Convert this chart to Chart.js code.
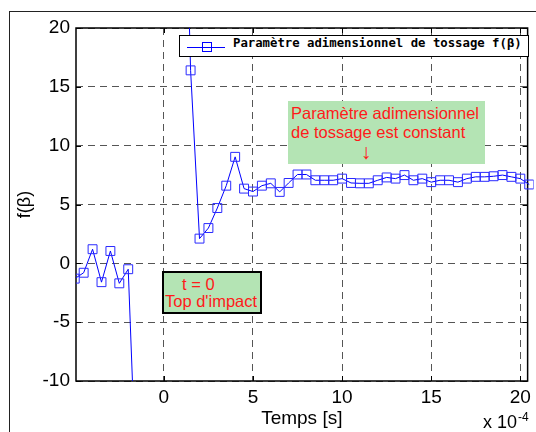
<!DOCTYPE html>
<html>
<head>
<meta charset="utf-8">
<script src="https://cdn.jsdelivr.net/npm/chart.js@4.4.0/dist/chart.umd.min.js"></script>
<style>
    body { margin: 0; background: #fff; }
    #wrap { position: relative; width: 536px; height: 432px; overflow: hidden; font-family: 'Liberation Sans', Arial, sans-serif; }
    #outer { position: absolute; left: 9px; top: 11px; width: 600px; height: 500px; border: 1px solid #222; }
    #tossageChart { position: absolute; left: 0; top: 0; }
    .legend { position: absolute; left: 179px; top: 35px; width: 350px; height: 22px; box-sizing: border-box; border: 1px solid #000; background: #fff; }
    .legend .line { position: absolute; left: 7px; top: 11px; width: 38px; height: 1px; background: #00f; }
    .legend .mark { position: absolute; left: 22px; top: 6px; width: 8px; height: 8px; border: 1px solid #00f; }
    .legend .txt { position: absolute; left: 53px; top: 0; line-height: 20px; font: bold 12.3px 'DejaVu Sans Mono', monospace; white-space: nowrap; }
    .note { position: absolute; background: #b4e4b4; color: #ff1a1a; font-size: 16.5px; white-space: nowrap; }
    .note1 { left: 288px; top: 101px; width: 197px; height: 63px; }
    .note1 div { position: absolute; left: 3px; line-height: 19px; }
    .note2 { left: 162px; top: 271px; width: 100px; height: 43px; box-sizing: border-box; border: 2px solid #000; }
    .note2 div { position: absolute; line-height: 17px; }
    .expo { position: absolute; font-size: 18px; line-height: 20px; white-space: nowrap; }
</style>
</head>
<body>
<div id="wrap">
    <div id="outer"></div>
    <canvas id="tossageChart" width="536" height="432"></canvas>
    <div class="legend"><span class="line"></span><span class="mark"></span><span class="txt" id="legend-text"></span></div>
    <div class="note note1">
        <div style="top:3px">Paramètre adimensionnel</div>
        <div style="top:22px">de tossage est constant</div>
        <div style="top:40px;left:66px;width:24px;text-align:center;font-size:21px;line-height:22px">↓</div>
    </div>
    <div class="note note2">
        <div style="top:3px;left:18px">t = 0</div>
        <div style="top:20px;left:1px">Top d'impact</div>
    </div>
    <div class="expo" style="left:483px;top:412px">x 10</div>
    <div class="expo" style="left:518px;top:410px;font-size:12px;line-height:14px">-4</div>
</div>
<script>
document.addEventListener('DOMContentLoaded', () => {
    // DATA (time in units of 1e-4 s)
    const seriesLabel = 'Paramètre adimensionnel de tossage f(β)';
    const timeValues = [-5, -4.5, -4, -3.5, -3, -2.5, -2, -1.5, -1, -0.5, 0, 0.5, 1, 1.5, 2, 2.5, 3, 3.5, 4, 4.5,
        5, 5.5, 6, 6.5, 7, 7.5, 8, 8.5, 9, 9.5, 10, 10.5, 11, 11.5, 12, 12.5, 13, 13.5, 14, 14.5,
        15, 15.5, 16, 16.5, 17, 17.5, 18, 18.5, 19, 19.5, 20, 20.5];
    const fBetaValues = [-1.3, -0.8, 1.2, -1.6, 1.05, -1.7, -0.5, -20.6, null, null, null, null, 45, 16.4, 2.1, 3.0, 4.7, 6.6, 9.05, 6.35,
        6.1, 6.6, 6.8, 6.07, 6.83, 7.55, 7.55, 7.06, 7.06, 7.06, 7.2, 6.83, 6.8, 6.8, 7.06, 7.3, 7.2, 7.5, 7.06, 7.2,
        6.9, 7.06, 7.06, 6.9, 7.2, 7.35, 7.35, 7.4, 7.5, 7.35, 7.2, 6.7];
    const xTicks = [0, 5, 10, 15, 20];
    const yTicks = [-10, -5, 0, 5, 10, 15, 20];

    document.getElementById('legend-text').textContent = seriesLabel;

    const tickFont = { family: "'Liberation Sans', Arial, sans-serif", size: 19 };

    // solid box round the plot area + small inward tick marks
    const framePlugin = {
        id: 'frame',
        beforeDatasetsDraw(chart) {
            const { ctx, chartArea: a, scales } = chart;
            ctx.save();
            ctx.strokeStyle = '#000';
            ctx.lineWidth = 1;
            ctx.beginPath();
            xTicks.forEach(v => {
                const px = Math.round(scales.x.getPixelForValue(v)) + 0.5;
                ctx.moveTo(px, a.top); ctx.lineTo(px, a.top + 5);
                ctx.moveTo(px, a.bottom); ctx.lineTo(px, a.bottom - 5);
            });
            yTicks.forEach(v => {
                const py = Math.round(scales.y.getPixelForValue(v)) + 0.5;
                ctx.moveTo(a.left, py); ctx.lineTo(a.left + 5, py);
                ctx.moveTo(a.right, py); ctx.lineTo(a.right - 5, py);
            });
            ctx.stroke();
            ctx.lineWidth = 1.5;
            ctx.strokeRect(a.left, a.top, a.right - a.left, a.bottom - a.top);
            ctx.restore();
        }
    };

    new Chart(document.getElementById('tossageChart'), {
        type: 'line',
        data: {
            datasets: [{
                label: seriesLabel,
                data: timeValues.map((t, i) => ({ x: t, y: fBetaValues[i] })),
                borderColor: '#0000ff',
                borderWidth: 1,
                pointStyle: 'rect',
                pointRadius: 6.3,
                pointBorderColor: '#2a2aff',
                pointBorderWidth: 1,
                pointBackgroundColor: 'transparent',
                spanGaps: false,
                tension: 0,
                clip: { left: 0, top: 0, right: 6, bottom: 0 }
            }]
        },
        plugins: [framePlugin],
        options: {
            responsive: false,
            devicePixelRatio: 1,
            animation: false,
            layout: { padding: { top: 28, right: 6, left: 0, bottom: 0 } },
            plugins: { legend: { display: false }, tooltip: { enabled: false } },
            scales: {
                x: {
                    type: 'linear',
                    min: -4.93,
                    max: 20.41,
                    afterFit: s => { s.height = 51; },
                    afterBuildTicks: s => { s.ticks = xTicks.map(v => ({ value: v })); },
                    ticks: { font: tickFont, color: '#000', padding: 5, maxRotation: 0 },
                    grid: { color: '#555', drawTicks: false },
                    border: { display: false, dash: [7, 5] },
                    title: { display: true, text: 'Temps [s]', font: tickFont, color: '#000', padding: { top: 0, bottom: 2 } }
                },
                y: {
                    type: 'linear',
                    min: -10,
                    max: 20,
                    afterFit: s => { s.width = 76; },
                    afterBuildTicks: s => { s.ticks = yTicks.map(v => ({ value: v })); },
                    ticks: { font: tickFont, color: '#000', padding: 6 },
                    grid: { color: '#555', drawTicks: false },
                    border: { display: false, dash: [7, 5] },
                    title: { display: true, text: 'f(β)', font: { family: tickFont.family, size: 18 }, color: '#000', padding: { top: 14, bottom: 0 } }
                }
            }
        }
    });
});
</script>
</body>
</html>
